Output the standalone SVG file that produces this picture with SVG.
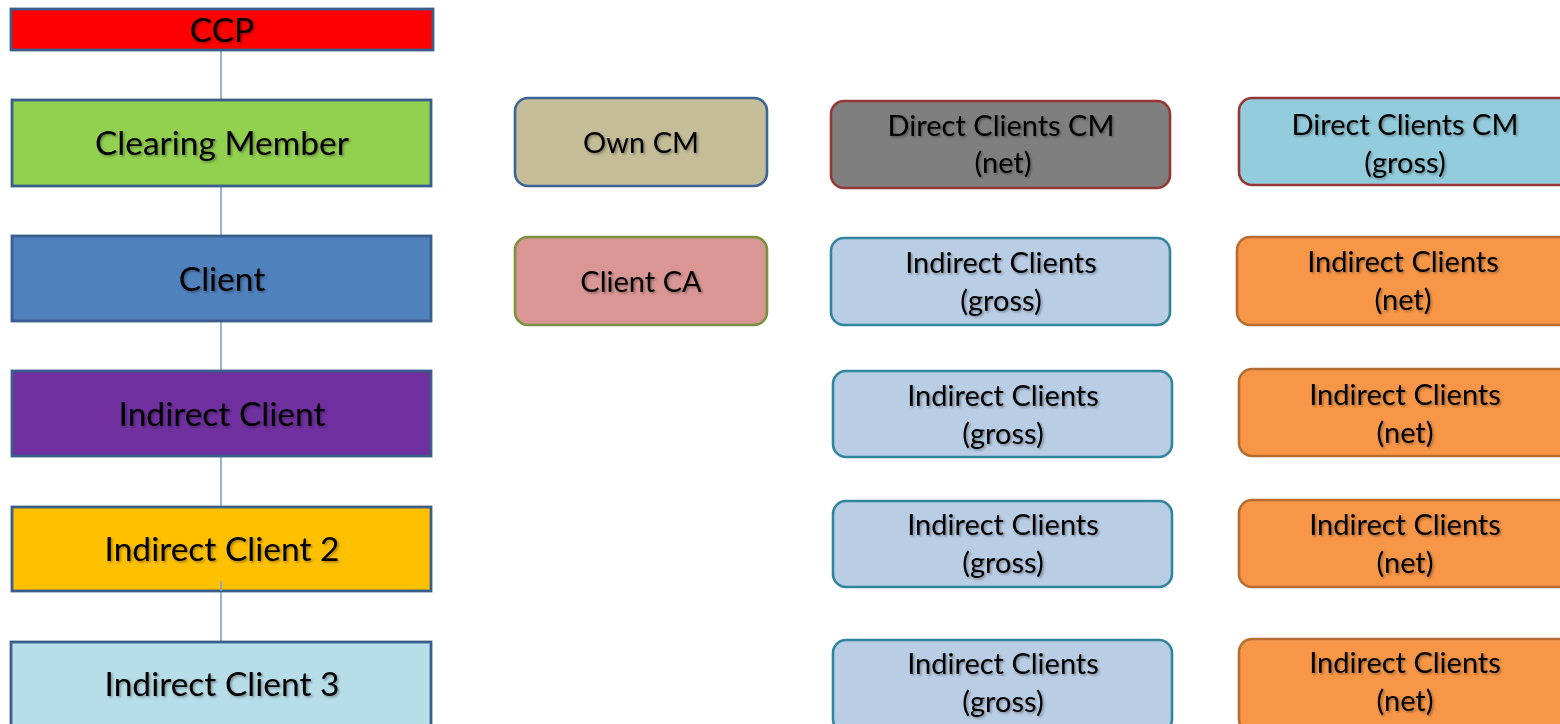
<svg xmlns="http://www.w3.org/2000/svg" width="1560" height="724" viewBox="0 0 1560 724">
<defs>
<filter id="ts" x="-10%" y="-30%" width="120%" height="160%">
<feDropShadow dx="1.5" dy="1.5" stdDeviation="0.8" flood-color="#000" flood-opacity="0.35"/>
</filter>
<style>
text{font-family:Lato,"Open Sans","Liberation Sans",sans-serif;fill:#000;text-anchor:middle;filter:url(#ts)}
.L{font-size:33.5px}
.R{font-size:29px}
.sq{stroke:#3A5E8C;stroke-width:2.8}
.rr{stroke-width:2.6}
.con line{stroke:#7EA3D3;stroke-width:1.6}
</style>
</defs>
<rect width="1560" height="724" fill="#fff"/>
<g class="con" id="connectors">
<line x1="221" y1="50" x2="221" y2="100"/>
<line x1="221" y1="186" x2="221" y2="236"/>
<line x1="221" y1="321" x2="221" y2="371"/>
<line x1="221" y1="456" x2="221" y2="507"/>
<line x1="221" y1="581" x2="221" y2="642"/>
</g>
<g id="ccp"><rect class="sq" x="11" y="9" width="422" height="41" fill="#FF0000"/><text class="L" x="222" y="42">CCP</text></g>
<g id="clearing-member"><rect class="sq" x="12" y="100" width="419" height="86" fill="#92D050"/><text class="L" x="222" y="155">Clearing Member</text></g>
<g id="client"><rect class="sq" x="12" y="236" width="419" height="85" fill="#4F81BD"/><text class="L" x="222" y="291">Client</text></g>
<g id="indirect-client"><rect class="sq" x="12" y="371" width="419" height="85" fill="#7030A0"/><text class="L" x="222" y="426">Indirect Client</text></g>
<g id="indirect-client-2"><rect class="sq" x="12" y="507" width="419" height="84" fill="#FFC000"/><line x1="221" y1="581" x2="221" y2="591" stroke="#7EA3D3" stroke-width="1.6"/><text class="L" x="222" y="561">Indirect Client 2</text></g>
<g id="indirect-client-3"><rect class="sq" x="11" y="642" width="420" height="90" fill="#B7DDE8"/><text class="L" x="222" y="696">Indirect Client 3</text></g>

<g id="own-cm"><rect class="rr" x="515" y="98" width="252" height="88" rx="13" fill="#C4BD97" stroke="#3E6496"/><text class="R" x="641" y="153">Own CM</text></g>
<g id="client-ca"><rect class="rr" x="515" y="237" width="252" height="88" rx="13" fill="#D99694" stroke="#77933C"/><text class="R" x="641" y="292">Client CA</text></g>

<g id="direct-net"><rect class="rr" x="831" y="101" width="339" height="87" rx="13" fill="#7F7F7F" stroke="#953735"/><text class="R" x="1001" y="136">Direct Clients CM</text><text class="R" x="1003" y="173">(net)</text></g>
<g id="ind-gross-1"><rect class="rr" x="831" y="238" width="339" height="87" rx="13" fill="#B9CDE5" stroke="#31859C"/><text class="R" x="1001" y="273">Indirect Clients</text><text class="R" x="1001" y="311">(gross)</text></g>
<g id="ind-gross-2"><rect class="rr" x="833" y="371" width="339" height="86" rx="13" fill="#B9CDE5" stroke="#31859C"/><text class="R" x="1003" y="406">Indirect Clients</text><text class="R" x="1003" y="444">(gross)</text></g>
<g id="ind-gross-3"><rect class="rr" x="833" y="501" width="339" height="86" rx="13" fill="#B9CDE5" stroke="#31859C"/><text class="R" x="1003" y="535">Indirect Clients</text><text class="R" x="1003" y="573">(gross)</text></g>
<g id="ind-gross-4"><rect class="rr" x="833" y="640" width="339" height="92" rx="13" fill="#B9CDE5" stroke="#31859C"/><text class="R" x="1003" y="674">Indirect Clients</text><text class="R" x="1003" y="712">(gross)</text></g>

<g id="direct-gross"><rect class="rr" x="1239" y="98" width="340" height="87" rx="13" fill="#93CDDD" stroke="#953735"/><text class="R" x="1405" y="135">Direct Clients CM</text><text class="R" x="1405" y="173">(gross)</text></g>
<g id="ind-net-1"><rect class="rr" x="1237" y="237" width="340" height="88" rx="13" fill="#F79646" stroke="#B66D31"/><text class="R" x="1403" y="272">Indirect Clients</text><text class="R" x="1403" y="310">(net)</text></g>
<g id="ind-net-2"><rect class="rr" x="1239" y="369" width="340" height="87" rx="13" fill="#F79646" stroke="#B66D31"/><text class="R" x="1405" y="405">Indirect Clients</text><text class="R" x="1405" y="443">(net)</text></g>
<g id="ind-net-3"><rect class="rr" x="1239" y="500" width="340" height="87" rx="13" fill="#F79646" stroke="#B66D31"/><text class="R" x="1405" y="535">Indirect Clients</text><text class="R" x="1405" y="573">(net)</text></g>
<g id="ind-net-4"><rect class="rr" x="1239" y="639" width="340" height="93" rx="13" fill="#F79646" stroke="#B66D31"/><text class="R" x="1405" y="673">Indirect Clients</text><text class="R" x="1405" y="711">(net)</text></g>
</svg>
